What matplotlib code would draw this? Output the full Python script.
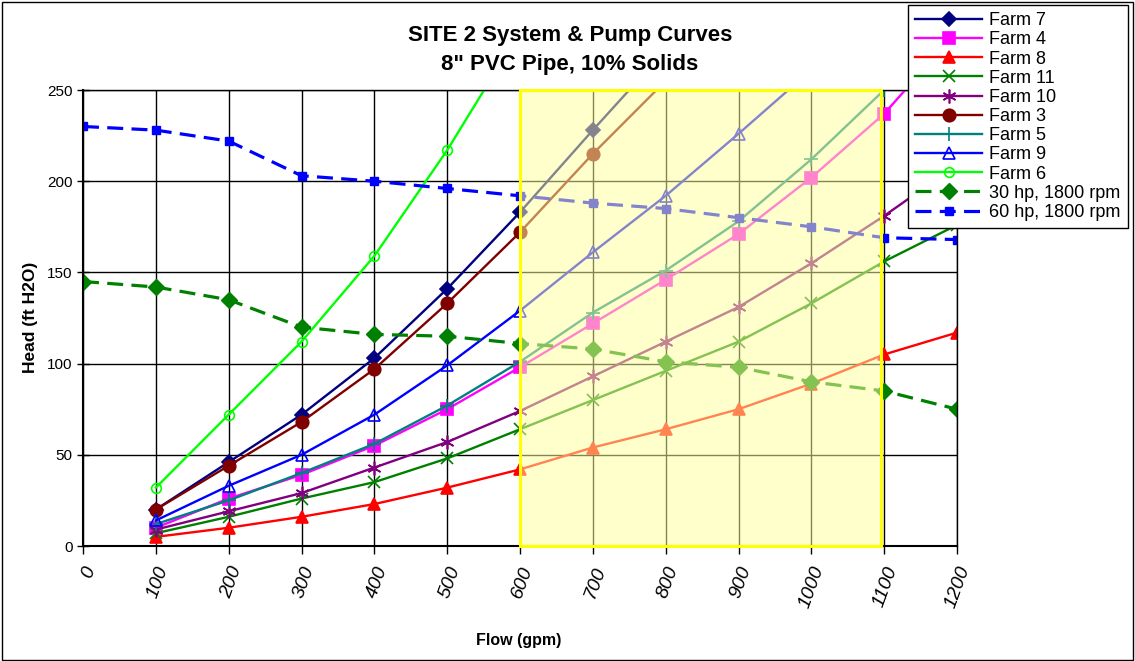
import matplotlib
matplotlib.use('Agg')
import matplotlib.pyplot as plt
from matplotlib.patches import Rectangle

plt.rcParams['font.family'] = ['Liberation Sans', 'DejaVu Sans']

flow = [0, 100, 200, 300, 400, 500, 600, 700, 800, 900, 1000, 1100, 1200]

# system curves (start at 100 gpm, values past the top of the axis are clipped)
farm7 = [20, 46, 72, 103, 141, 183, 228, 272]
farm4 = [10, 26, 39, 55, 75, 98, 122, 146, 171, 202, 237, 282]
farm8 = [5, 10, 16, 23, 32, 42, 54, 64, 75, 89, 105, 117]
farm11 = [7, 16, 26, 35, 48, 64, 80, 96, 112, 133, 156, 176]
farm10 = [9, 19, 29, 43, 57, 74, 93, 112, 131, 155, 181, 209]
farm3 = [20, 44, 68, 97, 133, 172, 215, 255]
farm5 = [12, 25, 40, 56, 77, 101, 128, 151, 178, 212, 250, 290]
farm9 = [14, 33, 50, 72, 99, 129, 161, 192, 226, 261]
farm6 = [32, 72, 112, 159, 217, 282]

# pump curves
pump30 = [145, 142, 135, 120, 116, 115, 111, 108, 101, 98, 90, 85, 75]
pump60 = [230, 228, 222, 203, 200, 196, 192, 188, 185, 180, 175, 169, 168]

highlight_start = 600
highlight_end = 1095

fig = plt.figure(figsize=(11.35, 6.61), dpi=100)
ax = fig.add_axes([83/1135, 1-546/661, (957-83)/1135, (546-90)/661])

farms = [
    ('Farm 7', farm7, '#000080', 'D', 7, '#000080'),
    ('Farm 4', farm4, '#FF00FF', 's', 8, '#FF00FF'),
    ('Farm 8', farm8, '#FF0000', '^', 8.5, '#FF0000'),
    ('Farm 11', farm11, '#008000', 'x', 8, '#008000'),
    ('Farm 10', farm10, '#800080', (6, 2, 0), 10, '#800080'),
    ('Farm 3', farm3, '#800000', 'o', 9, '#800000'),
    ('Farm 5', farm5, '#008080', '+', 10, '#008080'),
    ('Farm 9', farm9, '#0000FF', '^', 8.5, 'none'),
    ('Farm 6', farm6, '#00FF00', 'o', 7, 'none'),
]

for label, vals, color, marker, ms, mfc in farms:
    ax.plot(flow[1:1 + len(vals)], vals, color=color, lw=1.7, marker=marker,
            ms=ms, mfc=mfc, mec=color, mew=1.2, label=label)

ax.plot(flow, pump30, color='#008000', lw=2.3, ls=(0, (5, 2.6)), marker='D',
        ms=8.5, label='30 hp, 1800 rpm')
ax.plot(flow, pump60, color='#0000FF', lw=2.3, ls=(0, (5, 2.6)), marker='s',
        ms=5.5, label='60 hp, 1800 rpm')

ax.set_xlim(0, 1200)
ax.set_ylim(0, 250)
ax.set_xticks(flow)
ax.set_xticklabels([str(f) for f in flow], rotation=70, ha='right', va='top',
                   rotation_mode='anchor', fontsize=14, style='italic')
ax.set_yticks(range(0, 251, 50))
ax.tick_params(axis='y', labelsize=11, direction='inout', length=8, width=1)
ax.tick_params(axis='x', direction='out', length=6, width=1, pad=7)
ax.grid(True, color='black', lw=1)
ax.set_axisbelow(True)
for s in ax.spines.values():
    s.set_color('black')
    s.set_linewidth(1)
ax.spines['left'].set_linewidth(1.5)
ax.spines['bottom'].set_linewidth(1.5)

# shaded operating range
ax.add_patch(Rectangle((highlight_start, 0), highlight_end - highlight_start, 250,
                       facecolor=(1, 1, 0.62, 0.52), edgecolor='none', zorder=5))
ax.add_patch(Rectangle((highlight_start, 0), highlight_end - highlight_start, 250,
                       facecolor='none', edgecolor='#FFFF00', lw=2.2, zorder=6,
                       clip_on=False))

fig.text(570/1135, 1-50/661, 'SITE 2 System & Pump Curves\n8" PVC Pipe, 10% Solids',
         ha='center', va='center', fontsize=16, fontweight='bold', linespacing=1.55)
fig.text(30/1135, 1-317/661, 'Head (ft H2O)', rotation=90, ha='center', va='center',
         fontsize=12.5, fontweight='bold')
fig.text(519/1135, 1-640/661, 'Flow (gpm)', ha='center', va='center',
         fontsize=11.5, fontweight='bold')

leg = fig.legend(loc='upper left', bbox_to_anchor=(908/1135, 1-5/661),
                 fontsize=13, handlelength=3.7, labelspacing=0.12,
                 borderaxespad=0, fancybox=False, framealpha=1,
                 edgecolor='black', borderpad=0.4, handletextpad=0.4)
leg.get_frame().set_linewidth(1)

fig.patches.append(Rectangle((0.002, 0.002), 0.996, 0.995, transform=fig.transFigure,
                             fill=False, edgecolor='black', lw=1))

fig.savefig('out.png', dpi=100)
